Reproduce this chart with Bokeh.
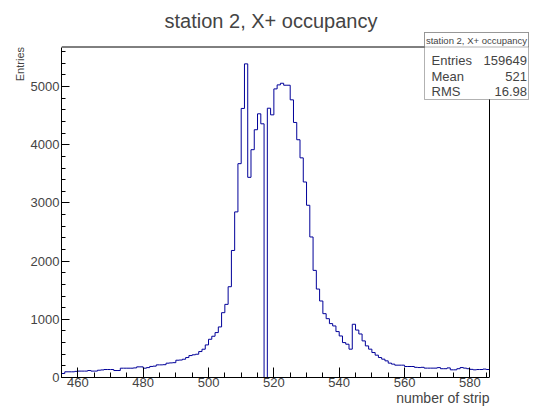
import numpy as np
from bokeh.plotting import figure
from bokeh.models import Range1d, FixedTicker, Label, BoxAnnotation, Title
from bokeh.embed import file_html
from bokeh.resources import INLINE

# histogram: one bin per strip, strips 455 .. 585
first_strip = 455
counts = [
    69, 98, 98, 98, 105, 110, 110, 110, 120, 110,          # 455-464
    110, 125, 130, 137, 137, 137, 120, 120, 160, 160,      # 465-474
    160, 160, 165, 183, 183, 160, 170, 190, 195, 217,      # 475-484
    217, 220, 246, 251, 255, 297, 300, 314, 343, 377,      # 485-494
    390, 400, 446, 486, 560, 657, 709, 772, 869, 1114,     # 495-504
    1257, 1560, 2183, 2846, 3675, 4624, 5390, 3440, 3915, 4258,  # 505-514
    4532, 4360, 0, 4628, 4514, 4960, 5029, 5057, 5023, 5023,     # 515-524
    4772, 4383, 4086, 3775, 3360, 2960, 2415, 1841, 1520, 1315,  # 525-534
    1097, 1011, 926, 886, 789, 714, 600, 572, 487, 915,    # 535-544
    815, 748, 629, 543, 487, 429, 384, 343, 315, 286,      # 545-554
    247, 230, 212, 212, 212, 189, 189, 189, 175, 171,      # 555-564
    175, 161, 161, 161, 161, 170, 151, 151, 165, 132,      # 565-574
    132, 151, 171, 161, 151, 140, 132, 137, 137, 145,      # 575-584
    137,                                                    # 585
]

title = "station 2, X+ occupancy"
x_title = "number of strip"
y_title = "Entries"
stats_names = ["Entries", "Mean", "RMS"]
stats_values = ["159649", "521", "16.98"]
x_ticks = [460, 480, 500, 520, 540, 560, 580]
y_ticks = [0, 1000, 2000, 3000, 4000, 5000]

x_lo, x_hi = 455, 586      # histogram axis limits
y_lo, y_hi = 0, 5680

edges = np.arange(first_strip, first_strip + len(counts) + 1)
heights = counts + [counts[-1]]

FONT = "Liberation Sans"

# canvas / frame geometry (pixels); the frame runs to the top and right edges
# so the title and the stats box can sit in it
W, H = 530, 411
left_b, bottom_b = 61, 34
box_w, box_h = 428, 330.5          # size of the histogram box
frame_w = W - left_b
frame_h = H - bottom_b
x_end = x_lo + (x_hi - x_lo) * frame_w / box_w
y_end = y_lo + (y_hi - y_lo) * frame_h / box_h

p = figure(width=W, height=H, output_backend="svg", toolbar_location=None,
           x_range=Range1d(x_lo, x_end), y_range=Range1d(y_lo, y_end),
           min_border_left=left_b, min_border_right=0, min_border_top=0,
           min_border_bottom=bottom_b)
p.outline_line_color = None
p.grid.visible = False

p.step(edges, heights, mode="after", line_color="#000099", line_width=1)

# top and right sides of the histogram box
p.line([x_lo, x_hi], [y_hi, y_hi], line_color="black", line_width=1)
p.line([x_hi, x_hi], [y_lo, y_hi], line_color="black", line_width=1)

p.xaxis.ticker = FixedTicker(ticks=x_ticks, minor_ticks=list(range(x_lo, x_hi, 5)))
p.yaxis.ticker = FixedTicker(ticks=y_ticks, minor_ticks=list(range(0, y_hi, 200)))
p.xaxis.bounds = (x_lo, x_hi)
p.yaxis.bounds = (y_lo, y_hi)

for ax in (p.xaxis[0], p.yaxis[0]):
    ax.major_tick_out = 0
    ax.minor_tick_out = 0
    ax.major_label_text_font = FONT
    ax.major_label_text_font_size = "13px"
    ax.axis_line_color = "black"
    ax.major_tick_line_color = "black"
    ax.minor_tick_line_color = "black"

p.xaxis.major_tick_in = 10
p.xaxis.minor_tick_in = 5
p.yaxis.major_tick_in = 8
p.yaxis.minor_tick_in = 4
p.xaxis.major_label_standoff = 0
p.yaxis.major_label_standoff = 2

# axis titles, right-aligned to the end of the histogram box
p.add_layout(Title(text=x_title, align="right", offset=frame_w - box_w,
                   vertical_align="top", text_font=FONT, text_font_size="14px",
                   text_font_style="normal", standoff=0), "below")
p.add_layout(Title(text=y_title, align="right", offset=frame_h - box_h,
                   text_font=FONT, text_font_size="11px", text_font_style="normal",
                   standoff=4), "left")

# title (screen units: from frame left, up from frame bottom)
p.add_layout(Label(x=209.5, y=357, x_units="screen", y_units="screen", text=title,
                   text_font=FONT, text_font_size="20px", text_align="center",
                   text_baseline="middle"))

# stats box
box_l, box_r, box_t, box_b, box_sep = 363, 467, 345, 278, 330.5
for top, bottom in ((box_t, box_b), (box_t, box_sep)):
    p.add_layout(BoxAnnotation(left=box_l, right=box_r, top=top, bottom=bottom,
                               left_units="screen", right_units="screen",
                               top_units="screen", bottom_units="screen",
                               fill_color="white", fill_alpha=1.0,
                               line_color="black", line_width=1, level="overlay"))
p.add_layout(Label(x=(box_l + box_r) / 2, y=337.5, x_units="screen", y_units="screen",
                   text=title, text_font=FONT, text_font_size="9.5px",
                   text_align="center", text_baseline="middle", level="overlay"))
row_y = [317, 301.5, 286]
for name, val, yy in zip(stats_names, stats_values, row_y):
    p.add_layout(Label(x=370, y=yy, x_units="screen", y_units="screen", text=name,
                       text_font=FONT, text_font_size="13px", text_align="left",
                       text_baseline="middle", level="overlay"))
    p.add_layout(Label(x=465.5, y=yy, x_units="screen", y_units="screen", text=val,
                       text_font=FONT, text_font_size="13px", text_align="right",
                       text_baseline="middle", level="overlay"))

open("out.html", "w").write(file_html(p, INLINE))
